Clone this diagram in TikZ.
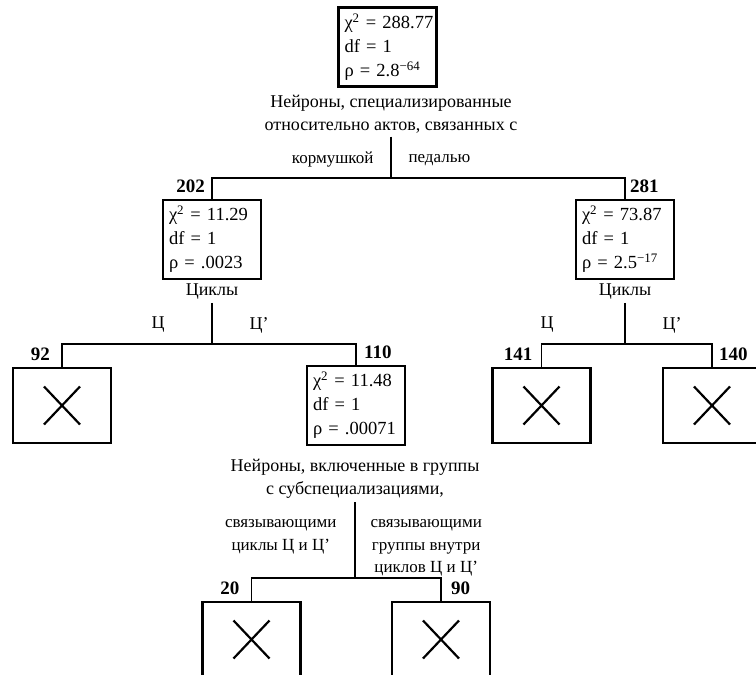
\documentclass[tikz,border=0pt]{standalone}
\usepackage{fontspec}
\setmainfont{Liberation Serif}
\usetikzlibrary{positioning}

\tikzset{
  statbox/.style={draw, line width=2.4pt, text width=86pt, inner sep=6pt,
    minimum height=75pt, align=left, font=\fontsize{18.5}{24}\selectfont},
  crossbox/.style={draw, line width=2.4pt, minimum width=98pt, minimum height=75pt},
  count/.style={inner sep=0pt, font=\fontsize{19}{20}\selectfont\bfseries},
  caption/.style={align=center, font=\fontsize{18}{23}\selectfont},
  branch/.style={align=center, font=\fontsize{17}{22.5}\selectfont},
  cyc/.style={font=\fontsize{18}{20}\selectfont},
  tree/.style={line width=1.2pt},
  cross/.style={line width=2.2pt},
}

\begin{document}
\begin{tikzpicture}[x=1pt, y=-1pt]
   \useasboundingbox (0,0) rectangle (756,675);

   % Root
   \node[statbox] (root) at (387.5,47) {χ\textsuperscript{2}~=~288.77\\df~=~1\\ρ~=~2.8\textsuperscript{−64}};
   \node[caption] (cap1) at (391,114) {Нейроны, специализированные\\относительно актов, связанных с};
   \coordinate (s1) at (391,178);
   \node[branch, anchor=east] (feeder) at (377,160) {кормушкой};
   \node[branch, anchor=west] (pedal) at (405,160) {педалью};

   % Second level
   \node[statbox] (n202) at (212,239.5) {χ\textsuperscript{2}~=~11.29\\df~=~1\\ρ~=~.0023};
   \node[statbox] (n281) at (625,239.5) {χ\textsuperscript{2}~=~73.87\\df~=~1\\ρ~=~2.5\textsuperscript{−17}};
   \node[count, anchor=base east] (c202) at ([shift={(-7,-6)}]n202.north) {202};
   \node[count, anchor=base west] (c281) at ([shift={(5,-6)}]n281.north) {281};
   \node[cyc, below=0pt of n202] (cyc1) {Циклы};
   \node[cyc, below=0pt of n281] (cyc2) {Циклы};

   \draw[tree] (cap1.south) -- (s1);
   \draw[tree] (s1) -| (n202);
   \draw[tree] (s1) -| (n281);

   % Third level
   \coordinate (s2) at (212,344);
   \coordinate (s3) at (625,344);
   \node[crossbox] (n92) at (62,405.5) {};
   \node[statbox] (n110) at (356,405.5) {χ\textsuperscript{2}~=~11.48\\df~=~1\\ρ~=~.00071};
   \node[crossbox] (n141) at (541.5,405.5) {};
   \node[crossbox] (n140) at (712,405.5) {};
   \node[count, anchor=base east] (c92) at ([shift={(-12,-6)}]n92.north) {92};
   \node[count, anchor=base west] (c110) at ([shift={(8,-6)}]n110.north) {110};
   \node[count, anchor=base east] (c141) at ([shift={(-9,-6)}]n141.north) {141};
   \node[count, anchor=base west] (c140) at ([shift={(7,-6)}]n140.north) {140};

   \node[cyc] (u1) at (158,325) {Ц};
   \node[cyc] (v1) at (259,325) {Ц’};
   \node[cyc] (u2) at (547,325) {Ц};
   \node[cyc] (v2) at (672,325) {Ц’};

   \draw[tree] (cyc1.south) -- (s2);
   \draw[tree] (s2) -| (n92);
   \draw[tree] (s2) -| (n110);
   \draw[tree] (cyc2.south) -- (s3);
   \draw[tree] (s3) -| (n141);
   \draw[tree] (s3) -| (n140);

   % Fourth level
   \node[caption] (cap2) at (355,479) {Нейроны, включенные в группы\\с субспециализациями,};
   \coordinate (s4) at (355,578);
   \node[branch, anchor=north east] (link1) at (340,516) {связывающими\\циклы Ц и Ц’};
   \node[branch, anchor=north west] (link2) at (367,516) {связывающими\\группы внутри\\циклов Ц и Ц’};
   \node[crossbox] (n20) at (251.5,639.5) {};
   \node[crossbox] (n90) at (441,639.5) {};
   \node[count, anchor=base east] (c20) at ([shift={(-12,-6)}]n20.north) {20};
   \node[count, anchor=base west] (c90) at ([shift={(10,-6)}]n90.north) {90};

   \draw[tree] (cap2.south) -- (s4);
   \draw[tree] (s4) -| (n20);
   \draw[tree] (s4) -| (n90);

   % Crosses in the empty boxes
   \foreach \n in {n92,n141,n140,n20,n90}
     \draw[cross] ([shift={(-18,-19)}]\n.center) -- ([shift={(18,19)}]\n.center)
                  ([shift={(-18,19)}]\n.center) -- ([shift={(18,-19)}]\n.center);
\end{tikzpicture}
\end{document}
